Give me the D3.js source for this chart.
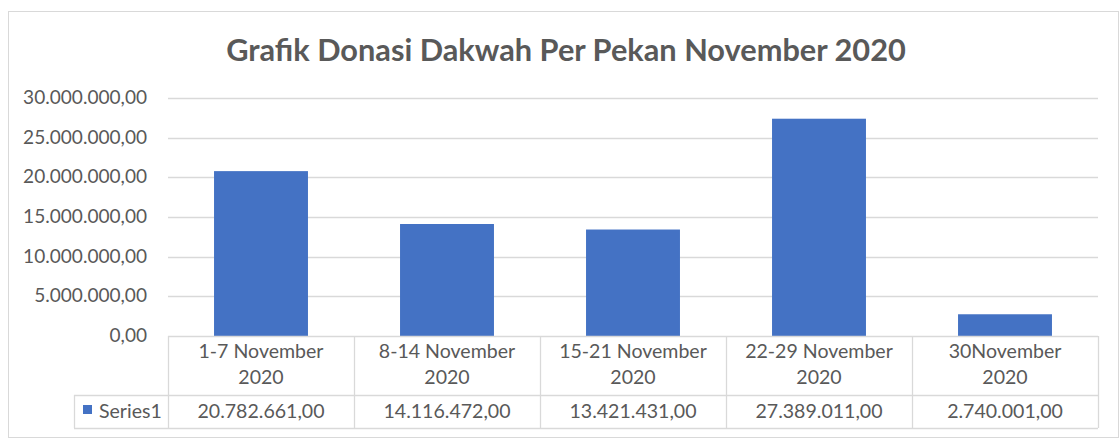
<!DOCTYPE html>
<html><head><meta charset="utf-8">
<script src="https://cdn.jsdelivr.net/npm/d3@7"></script>
<style>body{margin:0;background:#fff}svg{display:block}text{font-family:Lato,"Open Sans",sans-serif}</style>
</head><body>
<svg id="c" width="1120" height="440"></svg>
<script>
const title = "Grafik Donasi Dakwah Per Pekan November 2020";
const categories = [["1-7 November","2020"],["8-14 November","2020"],["15-21 November","2020"],["22-29 November","2020"],["30November","2020"]];
const values = [20782661, 14116472, 13421431, 27389011, 2740001];
const ticks = [0, 5000000, 10000000, 15000000, 20000000, 25000000, 30000000];
const seriesName = "Series1";

const W = 1120, H = 440;
const plot = {left:168, right:1098, top:98, bottom:336};
const tableRow1 = 395, tableRow2 = 428, legendLeft = 74;
const grey = "#595959", lineC = "#d9d9d9", barC = "#4472C4";

const loc = d3.formatLocale({decimal:",", thousands:".", grouping:[3], currency:["",""]});
const fmt = loc.format(",.2f");

const svg = d3.select("#c");
svg.append("rect").attr("x",8.5).attr("y",11.5).attr("width",1110).attr("height",426)
  .attr("fill","#fff").attr("stroke",lineC);

function fit(sel, target){
  const w = sel.node().getComputedTextLength();
  const fs = parseFloat(sel.attr("font-size"));
  return fs * target / w;
}

const y = d3.scaleLinear().domain([0, 30000000]).range([plot.bottom, plot.top]);
const x = d3.scaleBand().domain(d3.range(categories.length)).range([plot.left, plot.right]).padding(0);

// title
const t = svg.append("text").attr("x",566).attr("y",61).attr("text-anchor","middle")
  .attr("font-size",30).attr("font-weight","bold").attr("fill",grey).text(title);
t.attr("font-size", fit(t, 680));

// gridlines
svg.append("g").selectAll("line").data(ticks.filter(d=>d>0)).join("line")
  .attr("x1",plot.left).attr("x2",plot.right)
  .attr("y1",d=>Math.round(y(d))+0.5).attr("y2",d=>Math.round(y(d))+0.5)
  .attr("stroke",lineC).attr("stroke-width",1.3);

// y axis labels
const yl = svg.append("g").selectAll("text").data(ticks).join("text")
  .attr("x",147).attr("y",d=>y(d)+6).attr("text-anchor","end")
  .attr("font-size",18).attr("fill",grey).text(d=>fmt(d));
const yfs = fit(d3.select(yl.nodes()[ticks.length-1]), 124);
yl.attr("font-size", yfs);

// bars
const bw = x.bandwidth()*0.505;
svg.append("g").selectAll("rect").data(values).join("rect")
  .attr("x",(d,i)=>x(i)+x.bandwidth()/2-bw/2).attr("width",bw)
  .attr("y",d=>y(d)).attr("height",d=>y(0)-y(d)).attr("fill",barC);

// table lines
const tl = svg.append("g").attr("stroke",lineC).attr("stroke-width",1.3);
tl.append("line").attr("x1",plot.left).attr("x2",plot.right).attr("y1",plot.bottom+0.5).attr("y2",plot.bottom+0.5);
tl.append("line").attr("x1",legendLeft).attr("x2",plot.right).attr("y1",tableRow1+0.5).attr("y2",tableRow1+0.5);
tl.append("line").attr("x1",legendLeft).attr("x2",plot.right).attr("y1",tableRow2+0.5).attr("y2",tableRow2+0.5);
tl.append("line").attr("x1",legendLeft+0.5).attr("x2",legendLeft+0.5).attr("y1",tableRow1).attr("y2",tableRow2);
d3.range(categories.length+1).forEach(i=>{
  const xx = Math.round(plot.left + i*x.step())+0.5;
  tl.append("line").attr("x1",xx).attr("x2",xx).attr("y1",plot.bottom).attr("y2",tableRow2);
});

// category labels
const cg = svg.append("g");
const catFs = 17;
categories.forEach((c,i)=>{
  const cx = x(i)+x.bandwidth()/2;
  c.forEach((line,j)=>{
    cg.append("text").attr("x",cx).attr("y",358+j*26).attr("text-anchor","middle")
      .attr("font-size",catFs).attr("fill",grey).text(line);
  });
});
const refCat = d3.select(cg.selectAll("text").nodes()[0]);
const cfs = fit(refCat, 125);
cg.selectAll("text").attr("font-size", cfs);

// values row
const vg = svg.append("g").selectAll("text").data(values).join("text")
  .attr("x",(d,i)=>x(i)+x.bandwidth()/2).attr("y",418).attr("text-anchor","middle")
  .attr("font-size",cfs).attr("fill",grey).text(d=>fmt(d));

// legend key
svg.append("rect").attr("x",83).attr("y",405).attr("width",9).attr("height",9).attr("fill",barC);
svg.append("text").attr("x",99).attr("y",418).attr("font-size",cfs).attr("fill",grey).text(seriesName);
</script>
</body></html>
